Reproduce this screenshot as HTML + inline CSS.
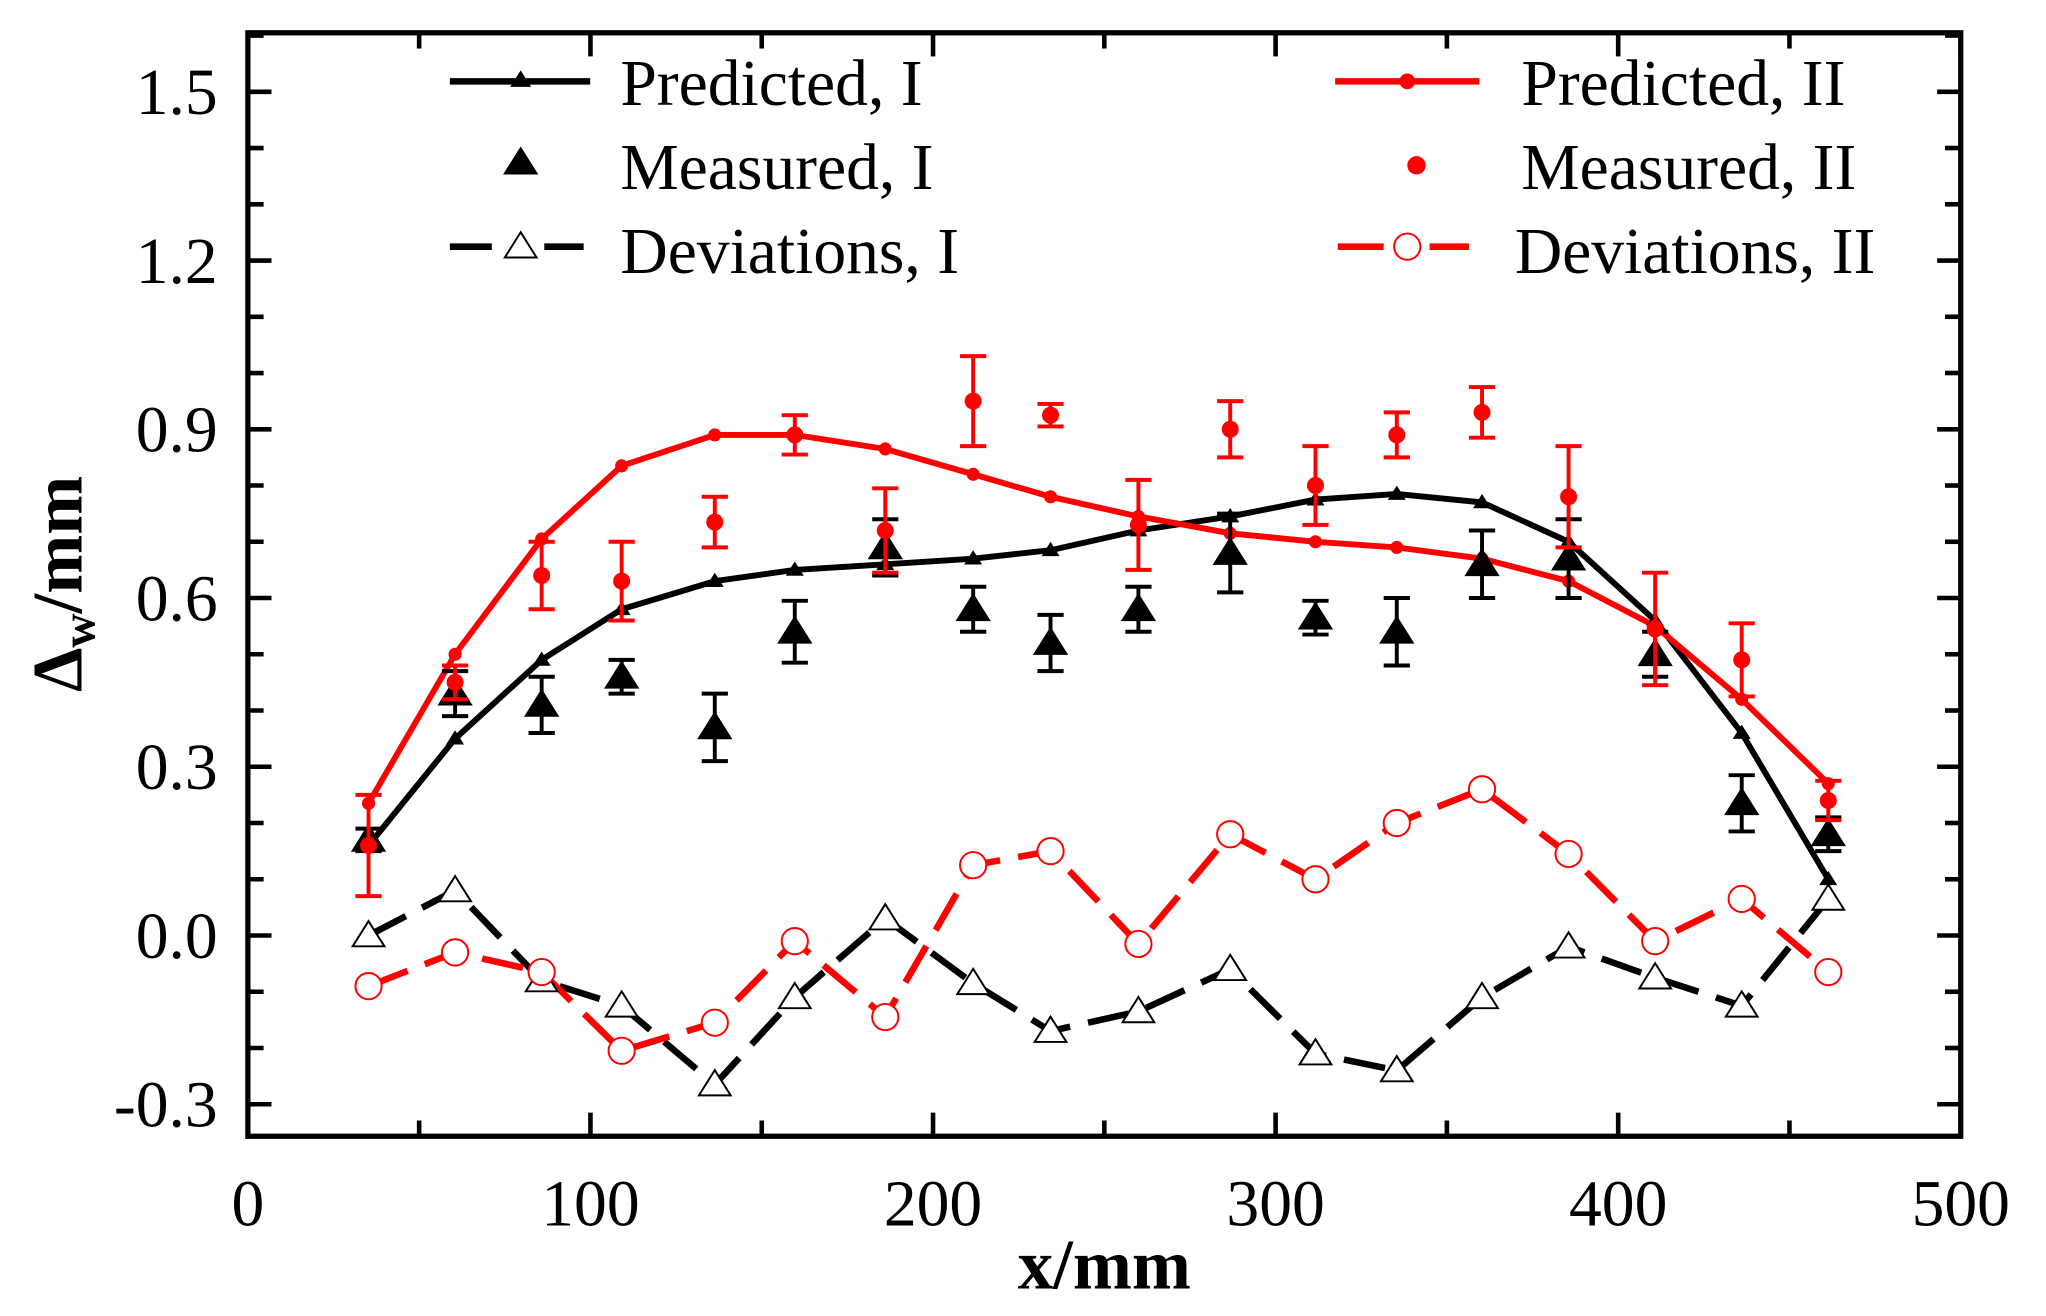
<!DOCTYPE html>
<html><head><meta charset="utf-8"><style>html,body{margin:0;padding:0;background:#fff}svg{display:block}</style></head>
<body>
<svg id="s" width="2046" height="1316" viewBox="0 0 1560 1003" preserveAspectRatio="none" xmlns="http://www.w3.org/2000/svg" font-family="Liberation Serif, serif"></svg>
<script>
const s=document.getElementById('s');let h='';
const X=[281,347,413,474,545,606,675,742,801,868,938,1003,1065,1130,1196,1262,1328,1394];
const Y=v=>713-v*428.7;
const pI=[0.16,0.35,0.49,0.58,0.63,0.65,0.66,0.67,0.685,0.72,0.745,0.775,0.785,0.77,0.70,0.56,0.36,0.10];
const pII=[0.235,0.50,0.705,0.835,0.89,0.89,0.865,0.82,0.78,0.745,0.715,0.70,0.69,0.67,0.63,0.55,0.42,0.27];
const mI=[[0.17,.02],[.43,.04],[.41,.05],[.46,.03],[.37,.06],[.54,.055],[.69,.05],[.58,.04],[.52,.05],[.58,.04],[.68,.07],[.565,.03],[.54,.06],[.66,.06],[.67,.07],[.50,.04],[.235,.05],[.18,.03]];
const mII=[[.16,.09],[.45,.03],[.64,.06],[.63,.07],[.735,.045],[.89,.035],[.72,.075],[.95,.08],[.925,.02],[.73,.08],[.90,.05],[.80,.07],[.89,.04],[.93,.045],[.78,.09],[.545,.1],[.49,.065],[.24,.035]];
const dI=[0,0.08,-0.08,-0.125,-0.265,-0.11,0.03,-0.085,-0.17,-0.135,-0.06,-0.21,-0.24,-0.11,-0.02,-0.075,-0.125,0.065];
const dII=[-0.09,-0.03,-0.065,-0.205,-0.155,-0.01,-0.145,0.125,0.15,-0.015,0.18,0.10,0.20,0.26,0.145,-0.01,0.065,-0.065];
const pl=(a,c,w,d)=>`<polyline fill="none" stroke="${c}" stroke-width="${w}" ${d?`stroke-dasharray="${d}"`:''} points="${a.map((v,i)=>X[i]+','+Y(v)).join(' ')}"/>`;
const tri=(x,y,r,f,st)=>`<polygon points="${x},${y-r} ${x-r*1.1},${y+r*0.75} ${x+r*1.1},${y+r*0.75}" fill="${f}" stroke="${st}" stroke-width="1.5"/>`;
h+=`<rect x="189" y="25" width="1306" height="841" fill="none" stroke="#000" stroke-width="4"/>`;
for(let i=0;i<=10;i++){const x=189+i*130.6;const L=i%2==0?18:12;h+=`<line x1="${x}" y1="866" x2="${x}" y2="${866-L}" stroke="#000" stroke-width="3.5"/><line x1="${x}" y1="25" x2="${x}" y2="${25+L}" stroke="#000" stroke-width="3.5"/>`;if(i%2==0)h+=`<text x="${x}" y="934" font-size="50" text-anchor="middle">${i*50}</text>`;}
for(let k=-6;k<=16;k++){const v=k*0.1;const y=Y(v);if(y<25||y>866)continue;const maj=k%3==0;const L=maj?18:12;h+=`<line x1="189" y1="${y}" x2="${189+L}" y2="${y}" stroke="#000" stroke-width="3.5"/><line x1="1495" y1="${y}" x2="${1495-L}" y2="${y}" stroke="#000" stroke-width="3.5"/>`;if(maj)h+=`<text x="166" y="${y+17}" font-size="50" text-anchor="end">${v.toFixed(1)}</text>`;}
h+=`<text x="842" y="982" font-size="54" font-weight="bold" text-anchor="middle">x/mm</text>`;
h+=`<text transform="translate(62,445) rotate(-90)" font-size="54" font-weight="bold" text-anchor="middle">Δ<tspan font-size="36" dy="10">w</tspan><tspan dy="-10">/mm</tspan></text>`;
h+=pl(dI,'#000',5,'32,14');h+=pl(dII,'#f00',5,'32,14');
h+=pl(pI,'#000',4.5);h+=pl(pII,'#f00',4.5);
pI.forEach((v,i)=>h+=tri(X[i],Y(v),5,'#000','#000'));
pII.forEach((v,i)=>h+=`<circle cx="${X[i]}" cy="${Y(v)}" r="5" fill="#f00"/>`);
const eb=(x,v,e,c)=>`<line x1="${x}" y1="${Y(v+e)}" x2="${x}" y2="${Y(v-e)}" stroke="${c}" stroke-width="3"/><line x1="${x-10}" y1="${Y(v+e)}" x2="${x+10}" y2="${Y(v+e)}" stroke="${c}" stroke-width="3"/><line x1="${x-10}" y1="${Y(v-e)}" x2="${x+10}" y2="${Y(v-e)}" stroke="${c}" stroke-width="3"/>`;
mI.forEach((m,i)=>{h+=eb(X[i],m[0],m[1],'#000');h+=tri(X[i],Y(m[0]),11,'#000','#000');});
mII.forEach((m,i)=>{h+=eb(X[i],m[0],m[1],'#f00');h+=`<circle cx="${X[i]}" cy="${Y(m[0])}" r="6.5" fill="#f00"/>`;});
dI.forEach((v,i)=>h+=tri(X[i],Y(v),11,'#fff','#000'));
dII.forEach((v,i)=>h+=`<circle cx="${X[i]}" cy="${Y(v)}" r="10" fill="#fff" stroke="#f00" stroke-width="1.5"/>`);
h+=`<line x1="343" y1="62" x2="450" y2="62" stroke="#000" stroke-width="5"/>`+tri(397,61,6,'#000','#000');
h+=tri(397,124,11,'#000','#000');
h+=`<line x1="343" y1="188" x2="375" y2="188" stroke="#000" stroke-width="5"/><line x1="415" y1="188" x2="445" y2="188" stroke="#000" stroke-width="5"/>`+tri(397,188,11,'#fff','#000');
h+=`<text x="473" y="80" font-size="50">Predicted, I</text><text x="473" y="144" font-size="50">Measured, I</text><text x="473" y="208" font-size="50">Deviations, I</text>`;
h+=`<line x1="1018" y1="62" x2="1128" y2="62" stroke="#f00" stroke-width="5"/><circle cx="1073" cy="62" r="6" fill="#f00"/>`;
h+=`<circle cx="1080" cy="126" r="7" fill="#f00"/>`;
h+=`<line x1="1020" y1="188" x2="1055" y2="188" stroke="#f00" stroke-width="5"/><line x1="1090" y1="188" x2="1120" y2="188" stroke="#f00" stroke-width="5"/><circle cx="1073" cy="188" r="10" fill="#fff" stroke="#f00" stroke-width="1.5"/>`;
h+=`<text x="1160" y="80" font-size="50">Predicted, II</text><text x="1160" y="144" font-size="50">Measured, II</text><text x="1155" y="208" font-size="50">Deviations, II</text>`;
s.innerHTML=h;
</script>
</body></html>
